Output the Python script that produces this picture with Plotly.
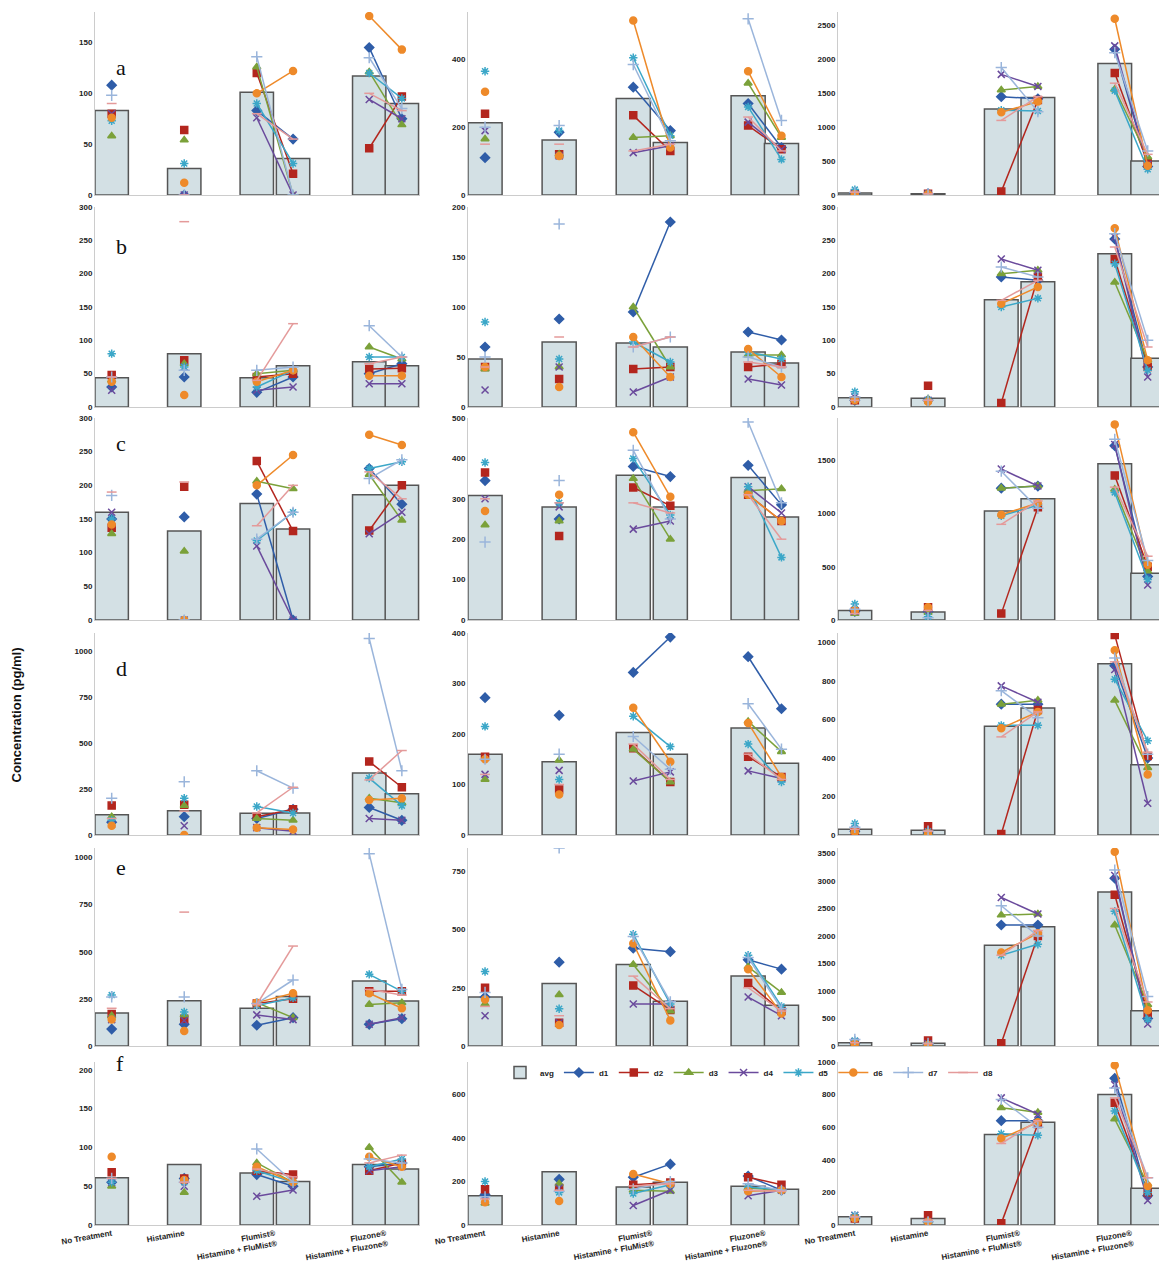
import plotly.graph_objects as go

OFF = 8  # default page body margin
W, H = 1167 - OFF, 1268 - OFF
positions = [0, 1, 2, 2.5, 3.55, 4.0]
tick_vals = [0, 1, 2.25, 3.78]
tick_text = ["No Treatment", "Histamine", "Flumist®<br>Histamine + FluMist®", "Fluzone®<br>Histamine + Fluzone®"]
donors = ["d1", "d2", "d3", "d4", "d5", "d6", "d7", "d8"]
row_letters = ["a", "b", "c", "d", "e", "f"]

# each panel: [avg, d1..d8], values for the 6 treatments
a1 = [[83,26,101,36,117,90],[108,0,83,55,145,75],[80,64,120,21,46,97],[58,54,126,0,121,69],[80,0,76,0,94,75],
      [73,31,90,31,120,95],[76,12,100,122,176,143],[98,0,136,0,135,85],[90,0,80,55,100,83]]
a2 = [[213,162,285,155,293,152],[110,185,318,190,270,140],[240,120,235,130,205,135],[165,120,170,175,330,170],
      [190,115,125,145,215,135],[365,190,405,175,260,105],[305,115,515,140,365,175],[200,205,385,160,520,220],[150,150,130,150,230,130]]
a3 = [[30,20,1270,1440,1940,500],[20,15,1450,1420,2150,420],[20,20,50,1400,1800,470],[20,10,1550,1600,1560,560],
      [30,10,1780,1600,2200,450],[80,20,1250,1240,1540,380],[15,10,1220,1380,2600,430],[40,20,1880,1230,2100,650],[40,20,1100,1450,1650,600]]
b1 = [[44,80,44,62,68,62],[30,45,22,45,50,65],[48,70,45,50,57,58],[40,65,50,55,90,72],[25,60,25,30,35,35],
      [80,60,30,55,75,75],[38,18,38,55,47,47],[45,55,55,60,122,75],[45,278,40,125,65,75]]
b2 = [[48,65,64,60,55,44],[60,88,95,185,75,67],[40,28,38,40,40,43],[38,40,100,40,52,52],[17,40,15,30,28,22],
      [85,48,65,45,55,48],[40,20,70,30,58,30],[50,183,60,70,50,40],[40,70,60,70,45,40]]
b3 = [[14,13,161,188,230,73],[10,10,195,190,252,60],[10,32,6,195,222,60],[12,12,200,205,187,70],[15,10,222,205,255,45],
      [23,10,150,163,215,55],[10,8,155,180,268,70],[15,10,210,195,260,100],[10,10,160,190,240,90]]
c1 = [[160,132,173,135,186,200],[150,153,187,0,225,172],[137,198,236,132,133,200],[128,102,206,195,216,148],[160,0,110,0,128,160],
      [150,0,118,160,225,235],[142,0,200,245,275,260],[185,0,120,160,210,238],[190,205,140,200,220,180]]
c2 = [[308,280,358,280,353,255],[345,250,380,355,383,285],[365,208,328,283,310,245],[235,245,350,200,320,325],[300,280,225,245,330,265],
      [390,290,400,260,330,155],[270,310,465,305,310,245],[193,345,420,250,490,290],[300,290,290,265,310,200]]
c3 = [[90,75,1025,1140,1470,440],[80,80,1240,1260,1640,410],[80,120,60,1060,1360,500],[60,70,1240,1260,1230,460],[80,50,1420,1260,1650,330],
      [150,30,980,1080,1200,380],[90,120,990,1100,1840,520],[100,20,1400,1050,1700,560],[60,90,900,1120,1250,600]]
d1p = [[110,132,118,120,338,225],[70,100,90,140,150,80],[160,165,100,140,400,260],[100,160,90,80,200,175],[60,50,40,20,90,80],
       [80,200,155,120,310,160],[50,0,40,30,190,200],[200,290,350,255,1070,350],[90,130,120,260,300,460]]
d2p = [[160,145,203,160,212,142],[272,237,322,392,353,250],[155,90,172,105,155,115],[110,148,170,105,225,165],[120,128,107,125,127,112],
       [215,110,235,175,180,105],[150,80,252,145,222,115],[150,160,195,130,260,170],[120,100,180,110,160,110]]
d3p = [[30,25,565,660,890,365],[20,10,680,680,880,400],[20,45,5,650,1040,410],[20,10,680,700,700,350],[30,10,775,690,860,165],
       [60,20,570,570,810,490],[15,10,555,640,960,315],[40,20,750,610,920,420],[30,20,510,640,900,430]]
e1 = [[175,240,200,262,345,238],[90,115,110,150,115,145],[170,145,225,250,290,290],[160,165,230,150,220,230],[140,135,165,140,115,150],
      [270,180,215,255,380,290],[140,80,230,280,280,200],[260,260,225,350,1020,300],[200,710,220,530,300,270]]
e2 = [[210,268,350,192,300,175],[210,360,420,405,370,330],[250,100,260,155,270,150],[180,220,350,150,340,230],[130,100,180,180,210,130],
      [320,160,480,180,390,170],[200,90,440,110,330,140],[230,850,470,190,380,160],[170,130,300,160,250,150]]
e3 = [[60,50,1830,2170,2800,640],[40,30,2200,2200,3050,500],[40,100,50,2000,2750,600],[50,30,2380,2400,2200,750],[80,40,2700,2400,3100,400],
      [100,30,1650,1850,2450,480],[40,20,1700,2050,3530,650],[120,50,2550,2000,3200,900],[60,40,1650,2100,2500,800]]
f1 = [[61,78,67,56,78,72],[55,60,65,50,75,80],[68,60,70,65,70,80],[50,42,80,55,100,55],[55,50,37,45,70,75],
      [55,55,70,55,75,85],[88,58,75,55,88,75],[60,55,98,55,85,80],[60,55,72,62,80,90]]
f2 = [[135,245,175,197,178,165],[140,210,220,280,225,160],[165,170,185,195,220,185],[100,190,160,155,170,160],[110,170,90,160,135,160],
      [200,150,145,185,175,160],[105,110,235,190,155,160],[130,155,165,200,190,160],[120,160,180,190,160,155]]
f3 = [[50,40,555,630,800,225],[40,20,640,640,900,180],[40,60,10,620,750,200],[40,20,720,690,650,250],[60,20,780,680,860,150],
      [60,20,560,550,700,200],[40,20,530,630,980,240],[50,20,770,600,840,290],[50,30,500,640,780,290]]

panels = [[a1, a2, a3], [b1, b2, b3], [c1, c2, c3], [d1p, d2p, d3p], [e1, e2, e3], [f1, f2, f3]]
y_ranges = [[(180, 50), (540, 200), (2700, 500)],
            [(300, 50), (200, 50), (300, 50)],
            [(300, 50), (500, 100), (1900, 500)],
            [(1100, 250), (400, 100), (1050, 200)],
            [(1050, 250), (850, 250), (3600, 500)],
            [(210, 50), (750, 200), (1000, 200)]]

# layout in reference pixels
row_px = [(12, 195), (207, 407), (418, 620), (633, 835), (848, 1046), (1062, 1225)]
col_px = [(95, 420), (468, 800), (838, 1166)]

colors = ["#2F5DA8", "#B3261E", "#7BA13A", "#6A4A9C", "#3BA7C8", "#EE8A2A", "#9AB5DB", "#E49A9A"]
symbols = ["diamond", "square", "triangle-up", "x-thin", "asterisk", "circle", "cross-thin", "line-ew"]
sizes = [7, 7, 7, 7, 7, 7, 8, 7]


def px(x):
    return (x - OFF) / W


def py(y):
    return 1 - (y - OFF) / H


fig = go.Figure()
layout = {}
k = 0
for r in range(6):
    for c in range(3):
        k += 1
        xa = "x" if k == 1 else f"x{k}"
        ya = "y" if k == 1 else f"y{k}"
        data = panels[r][c]
        fig.add_trace(go.Bar(x=positions, y=data[0], width=0.46, name="avg",
                             marker=dict(color="#D3E0E4", line=dict(color="#555555", width=1.5)),
                             xaxis=xa, yaxis=ya, showlegend=(k == 1), legendrank=1))
        for i, dn in enumerate(donors):
            v = data[i + 1]
            xs = [0, None, 1, None, 2, 2.5, None, 3.55, 4.0]
            ys = [v[0], None, v[1], None, v[2], v[3], None, v[4], v[5]]
            fig.add_trace(go.Scatter(x=xs, y=ys, mode="lines+markers", name=dn, connectgaps=False,
                                     line=dict(color=colors[i], width=1.5),
                                     marker=dict(symbol=symbols[i], size=sizes[i], color=colors[i],
                                                 line=dict(color=colors[i], width=1.5)),
                                     xaxis=xa, yaxis=ya, showlegend=(k == 1), legendrank=2 + i))
        x0, x1 = col_px[c]
        y0, y1 = row_px[r]
        ymax, dt = y_ranges[r][c]
        xkey = "xaxis" if k == 1 else f"xaxis{k}"
        ykey = "yaxis" if k == 1 else f"yaxis{k}"
        layout[xkey] = dict(domain=[px(x0), min(px(x1), 1)], anchor=ya, range=[-0.23, 4.25], automargin=False,
                            showgrid=False, zeroline=False, showline=True, linecolor="#cccccc",
                            tickvals=tick_vals, ticktext=tick_text, showticklabels=(r == 5),
                            tickangle=-10, ticks="",
                            tickfont=dict(family="Arial", size=8, color="#222", weight="bold"))
        layout[ykey] = dict(domain=[py(y1), py(y0)], anchor=xa, range=[0, ymax], dtick=dt,
                            automargin=False,
                            showgrid=False, zeroline=False, showline=True, linecolor="#cccccc",
                            ticks="", tickfont=dict(family="Arial", size=8, color="#222", weight="bold"))

fig.update_layout(**layout)
annotations = []
letter_y = [53, 232, 443, 668, 882, 1078]
for r, L in enumerate(row_letters):
    annotations.append(dict(x=px(114), y=py(letter_y[r]), xref="paper", yref="paper", text=L,
                            showarrow=False, font=dict(family="Liberation Serif", size=22, color="#111")))
annotations.append(dict(x=px(6), y=py(715), xref="paper", yref="paper", text="<b>Concentration (pg/ml)</b>",
                        textangle=-90, showarrow=False, font=dict(family="Arial", size=13, color="#111")))
fig.update_layout(annotations=annotations, width=W, height=H, margin=dict(l=0, r=0, t=0, b=0),
                  plot_bgcolor="white", paper_bgcolor="white", barmode="overlay",
                  legend=dict(orientation="h", x=px(500), y=py(1058), xanchor="left", yanchor="top",
                              font=dict(family="Arial", size=8, color="#222", weight="bold"), itemwidth=30,
                              bgcolor="rgba(0,0,0,0)", tracegroupgap=0))
fig.write_html("out.html")
